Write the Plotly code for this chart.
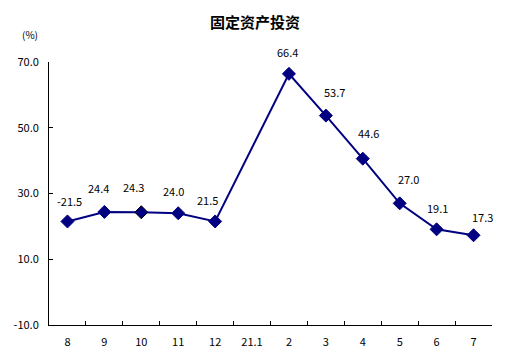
import plotly.graph_objects as go

categories = ["8", "9", "10", "11", "12", "21.1", "2", "3", "4", "5", "6", "7"]
values = [21.5, 24.4, 24.3, 24.0, 21.5, None, 66.4, 53.7, 40.6, 27.0, 19.1, 17.3]
labels = ["-21.5", "24.4", "24.3", "24.0", "21.5", None, "66.4", "53.7", "44.6", "27.0", "19.1", "17.3"]
label_dx = [2, -6, -8, -5, -8, 0, -1, 9, 6, 9, 1, 9]
label_dy = [20, 24, 25, 22, 21, 0, 22, 24, 26, 24, 21, 18]
y_ticks = [-10, 10, 30, 50, 70]

NAVY = "#000080"
FONT = "SimSun, Noto Sans CJK SC, DejaVu Sans"

fig = go.Figure()
fig.add_trace(go.Scatter(
    x=categories, y=values, mode="lines+markers", connectgaps=True,
    line=dict(color=NAVY, width=2),
    marker=dict(symbol="diamond", size=10, color=NAVY,
                line=dict(color=[NAVY, NAVY, "black"] + [NAVY] * 9, width=1)),
    hoverinfo="skip", showlegend=False,
))

for i, (v, t, dx, dy) in enumerate(zip(values, labels, label_dx, label_dy)):
    if v is None:
        continue
    fig.add_annotation(x=i, y=v, text=t, showarrow=False, xshift=dx, yshift=dy,
                       font=dict(family=FONT, size=11, color="black"))

fig.add_annotation(x=-0.065, y=1.14, xref="paper", yref="paper", text="(%)",
                   showarrow=False, font=dict(family=FONT, size=10, color="black"))

fig.update_layout(
    width=513, height=356,
    margin=dict(l=49, r=21, t=62, b=31),
    paper_bgcolor="white", plot_bgcolor="white",
    title=dict(text="<b>固定资产投资</b>", x=0.497, xanchor="center", y=0.935, yanchor="middle",
               font=dict(family=FONT, size=15, color="black")),
    xaxis=dict(type="category", categoryorder="array", categoryarray=categories,
               range=[-0.5, 11.5], showline=True, linecolor="black", linewidth=1,
               showgrid=False, zeroline=False, ticks="inside", tickson="boundaries",
               ticklen=4, tickcolor="black", ticklabelstandoff=7, automargin=False,
               tickfont=dict(family=FONT, size=11, color="black")),
    yaxis=dict(range=[-10, 70], tickvals=y_ticks, ticktext=[f"{v:.1f}" for v in y_ticks],
               showline=True, linecolor="black", linewidth=1, showgrid=False, zeroline=False,
               ticks="inside", ticklen=4, tickcolor="black", ticklabelstandoff=7, automargin=False,
               tickfont=dict(family=FONT, size=11, color="black")),
)

fig.write_html("out.html")
